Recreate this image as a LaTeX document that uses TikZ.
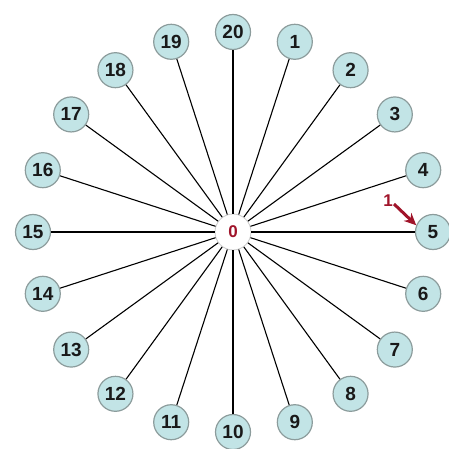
\documentclass[tikz,border=0pt]{standalone}
\usepackage{fontspec}
\setmainfont{Liberation Sans}
\usetikzlibrary{arrows.meta}
\definecolor{nodefill}{HTML}{C2E4E6}
\definecolor{nodeedge}{HTML}{8C9C9C}
\definecolor{darkred}{HTML}{A0142A}
\tikzset{
  outer/.style={circle, draw=nodeedge, line width=1.2pt, fill=nodefill, minimum size=35pt, inner sep=0pt,
    font=\fontsize{19}{19}\selectfont\bfseries, text=black!90},
  hub/.style={circle, draw=black!20, line width=0.8pt, fill=white, minimum size=36pt, inner sep=0pt,
    font=\fontsize{17}{17}\selectfont\bfseries, text=darkred},
  spoke/.style={black, line width=1.1pt},
  pointer/.style={darkred, line width=3pt, -{Stealth[length=12pt,width=11pt]}}
}
\begin{document}
\begin{tikzpicture}[x=1pt,y=-1pt]
\useasboundingbox (0,0) rectangle (448,449);
\node[hub] (c) at (233,232) {0};
\foreach \i in {1,...,20} {
  \pgfmathsetmacro{\ang}{90-18*\i}
  \node[outer] (n\i) at ({233+200*cos(\ang)},{232-200*sin(\ang)}) {\i};
}
\foreach \i in {1,...,20} {
  \draw[spoke] (c) -- (n\i);
}
\node[text=darkred, font=\fontsize{17}{17}\selectfont\bfseries] (lab) at (388,201) {1};
\coordinate (ps) at (394,204);
\draw[pointer] (ps) -- (n5.158);
\end{tikzpicture}
\end{document}
